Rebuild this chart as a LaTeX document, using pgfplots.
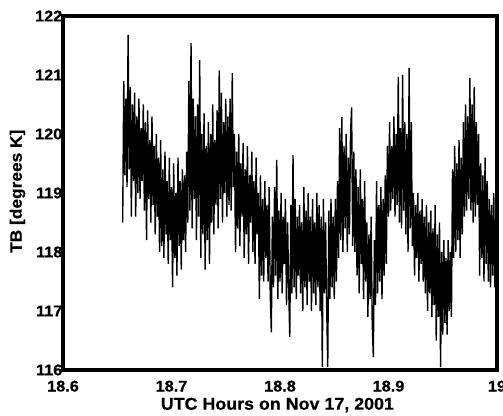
\documentclass[border=0pt]{standalone}
\usepackage{fontspec}
\setmainfont{Liberation Sans}[BoldFont={Liberation Sans Bold}, BoldFeatures={FakeBold=0.6, FakeStretch=1.05}]
\usepackage{pgfplots}
\pgfplotsset{compat=1.18}
\begin{document}
\begin{tikzpicture}
\useasboundingbox (0,0) rectangle (503pt,415pt);
\begin{axis}[
  at={(63pt,45pt)}, anchor=south west,
  scale only axis, width=434pt, height=354pt,
  xmin=18.6, xmax=19, ymin=116, ymax=122,
  xtick={18.6,18.7,18.8,18.9,19},
  xticklabels={18.6,18.7,18.8,18.9,19},
  ytick={116,117,118,119,120,121,122},
  /pgf/number format/assume math mode=true,
  ticklabel style={font=\fontsize{15.5}{15.5}\selectfont\bfseries},
  yticklabel style={inner sep=0.5pt},
  xticklabel style={anchor=base, yshift=-21.5pt},
  tick align=inside, major tick length=2pt,
  tick style={line width=1.5pt, black},
  axis line style={line width=3.2pt},
  xlabel={\fontsize{17}{17}\selectfont\bfseries UTC Hours on Nov 17, 2001},
  ylabel={\fontsize{16.5}{16.5}\selectfont\bfseries TB [degrees K]},
  xlabel style={at={(axis description cs:0.494,-0.099)}, anchor=center, inner sep=0pt},
  ylabel style={at={(axis description cs:-0.1048,0.505)}, anchor=center, inner sep=0pt},
]
\addplot[black, line width=1.4pt] coordinates {
(18.655,118.5)(18.656,120.9)(18.657,119.3)(18.658,120.6)(18.659,119.1)(18.660,121.68)(18.661,119.4)(18.662,120.8)(18.663,118.6)(18.664,120.5)
(18.665,119.2)(18.666,120.7)(18.667,118.6)(18.668,120.3)(18.669,119.0)(18.670,120.6)(18.671,118.9)(18.672,120.1)(18.673,119.2)(18.674,120.5)
(18.675,118.7)(18.676,120.2)(18.677,118.2)(18.678,120.4)(18.679,118.9)(18.680,119.9)(18.681,118.5)(18.682,120.3)(18.683,118.8)(18.684,119.8)
(18.685,118.3)(18.686,120.0)(18.687,118.6)(18.688,119.6)(18.689,118.0)(18.690,119.9)(18.691,118.1)(18.692,119.4)(18.693,117.9)(18.694,119.7)
(18.695,118.3)(18.696,119.2)(18.697,117.8)(18.698,119.6)(18.699,118.2)(18.700,119.1)(18.701,117.4)(18.702,119.5)(18.703,117.9)(18.704,119.0)
(18.705,117.6)(18.706,119.6)(18.707,118.1)(18.708,119.2)(18.709,117.7)(18.710,119.4)(18.711,118.2)(18.712,119.3)(18.713,118.0)(18.714,119.7)
(18.715,118.5)(18.716,120.9)(18.717,118.7)(18.718,121.54)(18.719,118.4)(18.720,120.6)(18.721,118.9)(18.722,120.3)(18.723,118.2)(18.724,120.5)
(18.725,118.6)(18.726,121.25)(18.727,117.9)(18.728,120.0)(18.729,118.3)(18.730,120.35)(18.731,117.7)(18.732,119.8)(18.733,118.2)(18.734,120.2)
(18.735,117.8)(18.736,120.0)(18.737,118.5)(18.738,120.5)(18.739,118.3)(18.740,119.9)(18.741,118.8)(18.742,120.4)(18.743,118.4)(18.744,121.08)
(18.745,118.9)(18.746,120.7)(18.747,118.5)(18.748,120.2)(18.749,119.0)(18.750,120.6)(18.751,118.6)(18.752,120.3)(18.753,118.8)(18.754,120.6)
(18.755,118.7)(18.756,121.03)(18.757,119.1)(18.758,120.0)(18.759,118.0)(18.760,119.7)(18.761,118.4)(18.762,120.0)(18.763,118.1)(18.764,119.5)
(18.765,118.6)(18.766,119.85)(18.767,117.9)(18.768,119.4)(18.769,118.3)(18.770,119.8)(18.771,117.8)(18.772,119.3)(18.773,118.5)(18.774,119.7)
(18.775,118.0)(18.776,119.2)(18.777,117.8)(18.778,119.6)(18.779,118.3)(18.780,119.0)(18.781,117.2)(18.782,119.3)(18.783,117.6)(18.784,118.9)
(18.785,117.5)(18.786,119.2)(18.787,117.9)(18.788,118.8)(18.789,117.5)(18.790,119.1)(18.791,117.3)(18.792,116.64)(18.793,118.6)(18.794,117.4)
(18.795,119.1)(18.796,117.6)(18.797,119.56)(18.798,117.2)(18.799,118.7)(18.800,117.5)(18.801,119.0)(18.802,117.3)(18.803,118.6)(18.804,117.8)
(18.805,118.9)(18.806,117.1)(18.807,118.5)(18.808,117.4)(18.809,116.56)(18.810,118.8)(18.811,117.3)(18.812,119.64)(18.813,117.4)(18.814,118.9)
(18.815,117.2)(18.816,118.6)(18.817,117.6)(18.818,118.8)(18.819,117.3)(18.820,118.5)(18.821,117.0)(18.822,119.1)(18.823,117.4)(18.824,118.7)
(18.825,117.1)(18.826,119.0)(18.827,117.5)(18.828,118.6)(18.829,117.0)(18.830,118.9)(18.831,117.3)(18.832,118.5)(18.833,117.1)(18.834,119.0)
(18.835,117.4)(18.836,118.8)(18.837,117.0)(18.838,118.6)(18.839,116.05)(18.840,118.9)(18.841,117.3)(18.842,118.5)(18.843,117.1)(18.844,116.05)
(18.845,118.7)(18.846,117.2)(18.847,118.9)(18.848,117.4)(18.849,118.6)(18.850,117.2)(18.851,118.9)(18.852,117.5)(18.853,119.2)(18.854,117.9)
(18.855,120.1)(18.856,118.2)(18.857,120.29)(18.858,118.0)(18.859,119.8)(18.860,118.4)(18.861,120.0)(18.862,118.0)(18.863,119.6)(18.864,118.3)
(18.865,120.0)(18.866,120.45)(18.867,118.1)(18.868,119.7)(18.869,118.0)(18.870,119.4)(18.871,117.6)(18.872,119.1)(18.873,117.3)(18.874,119.4)
(18.875,117.8)(18.876,118.9)(18.877,117.2)(18.878,119.2)(18.879,117.5)(18.880,118.5)(18.881,116.9)(18.882,118.3)(18.883,117.2)(18.884,118.6)
(18.885,116.8)(18.886,116.22)(18.887,118.2)(18.888,117.1)(18.889,119.2)(18.890,117.3)(18.891,118.8)(18.892,117.5)(18.893,119.1)(18.894,117.2)
(18.895,118.9)(18.896,117.6)(18.897,119.3)(18.898,117.8)(18.899,119.8)(18.900,118.6)(18.901,120.2)(18.902,118.7)(18.903,119.8)(18.904,118.9)
(18.905,120.3)(18.906,118.6)(18.907,120.0)(18.908,118.8)(18.909,120.97)(18.910,118.5)(18.911,120.1)(18.912,118.4)(18.913,121.0)(18.914,118.7)
(18.915,120.2)(18.916,118.3)(18.917,120.0)(18.918,118.0)(18.919,121.12)(18.920,118.4)(18.921,120.2)(18.922,118.1)(18.923,119.0)(18.924,117.6)
(18.925,118.8)(18.926,117.9)(18.927,119.0)(18.928,117.5)(18.929,118.7)(18.930,117.8)(18.931,118.9)(18.932,117.5)(18.933,118.6)(18.934,117.3)
(18.935,118.8)(18.936,117.0)(18.937,118.5)(18.938,117.3)(18.939,118.7)(18.940,116.9)(18.941,118.4)(18.942,117.1)(18.943,118.8)(18.944,116.5)
(18.945,118.3)(18.946,116.9)(18.947,118.5)(18.948,116.05)(18.949,118.0)(18.950,116.6)(18.951,118.2)(18.952,116.8)(18.953,117.9)(18.954,116.6)
(18.955,118.2)(18.956,117.0)(18.957,118.0)(18.958,116.9)(18.959,119.4)(18.960,117.9)(18.961,119.8)(18.962,118.0)(18.963,119.5)(18.964,118.2)
(18.965,119.9)(18.966,117.9)(18.967,119.6)(18.968,118.3)(18.969,120.2)(18.970,118.6)(18.971,120.5)(18.972,118.7)(18.973,120.3)(18.974,118.9)
(18.975,120.95)(18.976,118.7)(18.977,120.5)(18.978,118.5)(18.979,120.8)(18.980,118.6)(18.981,120.2)(18.982,118.8)(18.983,120.0)(18.984,117.6)
(18.985,119.5)(18.986,117.9)(18.987,119.3)(18.988,117.5)(18.989,119.6)(18.990,117.8)(18.991,119.2)(18.992,117.5)(18.993,118.9)(18.994,117.4)
(18.995,118.8)(18.996,117.6)(18.997,119.0)(18.998,117.4)(18.999,118.6)
};
\end{axis}
\end{tikzpicture}
\end{document}
